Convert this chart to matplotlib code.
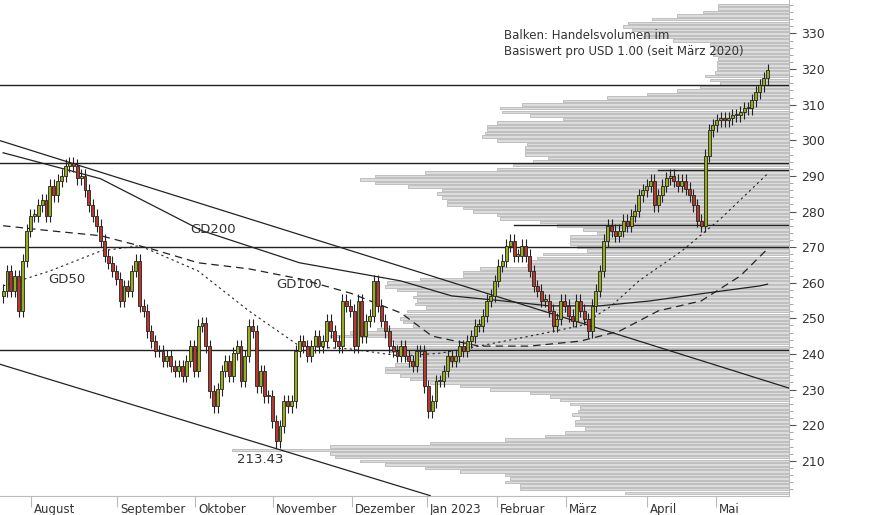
import matplotlib.pyplot as plt
import matplotlib.transforms as mtrans
import numpy as np

# daily closes (trading-day index 0..), open = previous close
closes = [257.7, 263.3, 257.7, 261.9, 252.1, 266.2, 274.6, 278.8, 278.8, 281.7,
          283.1, 278.8, 287.3, 284.5, 288.7, 290.1, 292.9, 293.5, 292.9, 289.3,
          290.1, 285.9, 281.7, 278.8, 276.0, 271.8, 267.6, 265.6, 263.3, 261.1,
          254.9, 259.1, 257.7, 263.3, 266.2, 253.5, 252.1, 246.4, 243.6, 240.8,
          240.8, 238.0, 239.4, 236.6, 235.2, 236.6, 233.8, 238.0, 242.2, 235.2,
          247.9, 248.7, 242.2, 229.5, 225.3, 230.1, 235.2, 238.0, 233.8, 240.2,
          242.2, 232.4, 239.4, 247.9, 246.4, 230.9, 235.2, 228.1, 228.1, 221.1,
          215.5, 219.7, 226.7, 225.3, 226.7, 240.8, 243.6, 242.2, 239.4, 242.2,
          245.0, 242.2, 243.6, 249.3, 246.4, 243.6, 242.2, 254.9, 253.5, 252.1,
          242.2, 254.9, 245.0, 249.3, 250.7, 260.5, 253.5, 249.3, 246.4, 242.2,
          240.8, 239.4, 242.2, 239.4, 238.0, 236.6, 240.8, 240.8, 230.9, 223.9,
          226.7, 232.4, 232.4, 235.2, 239.4, 238.0, 239.4, 242.2, 240.8, 243.6,
          245.0, 247.9, 247.9, 250.7, 254.9, 256.3, 260.5, 264.8, 266.2, 270.4,
          271.8, 267.6, 267.6, 270.4, 267.6, 263.3, 259.1, 257.7, 254.9, 254.9,
          252.1, 247.9, 249.8, 254.9, 253.5, 250.7, 249.3, 254.9, 252.1, 249.8,
          246.4, 253.5, 257.7, 263.3, 271.8, 276.0, 274.6, 273.2, 274.6, 277.4,
          276.0, 278.8, 280.2, 284.5, 285.9, 287.3, 288.7, 281.7, 284.5, 287.3,
          289.3, 290.1, 288.7, 287.3, 288.7, 286.4, 284.5, 281.7, 277.4, 276.0,
          295.7, 302.8, 304.2, 305.6, 306.2, 305.6, 306.2, 307.0, 307.0, 307.9,
          309.0, 309.0, 311.2, 313.5, 315.5, 317.4, 319.7]
opens = [closes[0] - 1.5] + closes[:-1]

# moving averages (index, value)
gd200_x = [0, 25, 51, 76, 102, 115, 128, 140, 153, 166, 179, 194, 196]
gd200_y = [296.5, 289.2, 274.6, 265.6, 260.5, 256.3, 254.9, 253.5, 253.5, 254.9, 256.9, 259.1, 259.6]
gd100_x = [0, 12, 25, 38, 50, 63, 76, 89, 102, 110, 122, 135, 148, 158, 168, 179, 189, 196]
gd100_y = [276.0, 274.6, 273.2, 269.5, 265.6, 263.9, 261.1, 257.1, 251.5, 245.0, 242.2, 242.2,
           243.6, 246.4, 252.1, 254.9, 261.9, 269.5]
gd50_x = [0, 12, 25, 35, 50, 63, 76, 89, 102, 112, 122, 135, 148, 156, 163, 174, 184, 196]
gd50_y = [259.1, 263.3, 268.9, 270.4, 263.3, 252.1, 242.2, 241.4, 239.4, 240.2, 242.2, 245.0,
          247.9, 253.5, 260.5, 268.9, 278.0, 290.6]

hlines = [315.5, 293.7, 270.0, 241.1]
short_lines = [(131, 276.1), (168, 291.7)]
trend_upper = [(-0.8, 299.9), (201.5, 230.4)]
trend_lower = [(-0.8, 237.1), (109.5, 200.2)]

month_pos = [7.1, 29.2, 49.2, 69.2, 89.5, 108.7, 126.6, 144.3, 165.1, 182.8]
month_lbl = ['August', 'September', 'Oktober', 'November', 'Dezember', 'Jan 2023',
             'Februar', 'März', 'April', 'Mai']

# volume profile: price bin -> left edge in pixels of the plot width
vp_price = list(range(201, 339))
vp_left_px = [625, 520, 520, 505, 510, 505, 460, 425, 385, 360, 335, 330, 232, 330, 430,
              505, 545, 565, 585, 575, 575, 580, 572, 578, 580, 570, 560, 550, 530, 490,
              460, 430, 410, 400, 385, 385, 395, 410, 405, 400, 390, 395, 395, 390, 330,
              350, 377, 413, 403, 400, 405, 407, 426, 415, 417, 413, 417, 397, 385, 387,
              420, 463, 463, 480, 527, 530, 537, 543, 587, 577, 570, 570, 570, 597, 583,
              557, 540, 500, 497, 473, 463, 447, 447, 442, 437, 442, 408, 375, 360, 375,
              425, 497, 513, 533, 548, 525, 525, 525, 527, 497, 482, 485, 487, 487, 497,
              563, 530, 502, 500, 522, 563, 607, 647, 677, 700, 720, 710, 705, 715, 717,
              717, 717, 718, 713, 713, 713, 710, 673, 643, 645, 632, 623, 628, 652, 677,
              703, 718, 718]

fig = plt.figure(figsize=(8.74, 5.15), dpi=100)
ax = fig.add_axes([0, 19 / 515, 789 / 874, 1 - 19 / 515])
x0, x1 = -0.8, 201.5
ax.set_xlim(x0, x1)
ax.set_ylim(200.1, 339.4)

# volume bars
left_idx = [x0 + p / 789 * (x1 - x0) for p in vp_left_px]
ax.barh(vp_price, [x1 - l for l in left_idx], left=left_idx, height=0.7,
        color='#dcdcdc', edgecolor='#b8b8b8', linewidth=0.6, zorder=1)

for h in hlines:
    ax.axhline(h, color='#222222', lw=1.0, zorder=3)
for sx, sy in short_lines:
    ax.plot([sx, x1], [sy, sy], color='#222222', lw=1.0, zorder=3)
for tl in (trend_upper, trend_lower):
    ax.plot([tl[0][0], tl[1][0]], [tl[0][1], tl[1][1]], color='#222222', lw=0.9, zorder=3)

ax.plot(gd200_x, gd200_y, color='#222222', lw=0.9, zorder=3)
ax.plot(gd100_x, gd100_y, color='#222222', lw=0.9, ls=(0, (6, 4)), zorder=3)
ax.plot(gd50_x, gd50_y, color='#222222', lw=0.8, ls=(0, (2, 3)), zorder=3)

# candles
for i, (o, c) in enumerate(zip(opens, closes)):
    up = c >= o
    col = '#9aab1c' if up else '#b8392a'
    ax.vlines(i, min(o, c) - 1.8, max(o, c) + 1.8, color='#222222', lw=0.8, zorder=4)
    ax.bar(i, max(abs(c - o), 0.4), bottom=min(o, c), width=0.75, color=col,
           edgecolor='#222222', linewidth=0.6, zorder=5)

txt = dict(color='#333333', fontsize=9.5, zorder=6)
ax.text(48, 274, 'GD200', **txt)
ax.text(11.5, 260, 'GD50', **txt)
ax.text(70, 258.5, 'GD100', **txt)
ax.text(66, 210.4, '213.43', ha='center', va='center', **txt)
ax.text(128.5, 331.3, 'Balken: Handelsvolumen im\nBasiswert pro USD 1.00 (seit März 2020)',
        color='#333333', fontsize=8.5, linespacing=1.3, va='top', zorder=6)

ax.yaxis.tick_right()
ax.set_yticks(range(210, 331, 10))
ax.set_yticks(np.arange(202, 339, 2), minor=True)
ax.tick_params(axis='y', colors='#555555', labelsize=9, length=5, labelcolor='#333333')
ax.tick_params(axis='y', which='minor', length=3, colors='#999999')
ax.set_xticks(month_pos)
ax.set_xticklabels(month_lbl, ha='left')
ax.tick_params(axis='x', length=8, colors='#bbbbbb', labelcolor='#333333', labelsize=8.5, pad=-3)
for lab in ax.get_xticklabels():
    lab.set_transform(lab.get_transform() + mtrans.ScaledTranslation(3 / 100, 0, fig.dpi_scale_trans))
for s in ('top', 'left'):
    ax.spines[s].set_visible(False)
ax.spines['bottom'].set_color('#bbbbbb')
ax.spines['right'].set_color('#bbbbbb')

fig.savefig('out.png', dpi=100)
